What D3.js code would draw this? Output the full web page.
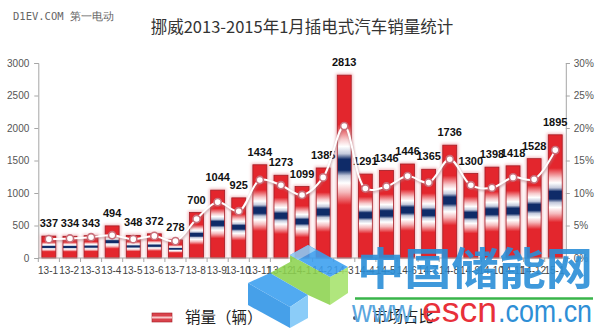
<!DOCTYPE html>
<html><head><meta charset="utf-8">
<script src="https://cdn.jsdelivr.net/npm/d3@7"></script>
<style>body{margin:0;background:#fff}svg{display:block}</style>
</head><body>
<svg id="c" width="600" height="333"></svg>
<script>
const categories = ['13-1','13-2','13-3','13-4','13-5','13-6','13-7','13-8','13-9','13-10','13-11','13-12',
  '14-1','14-2','14-3','14-4','14-5','14-6','14-7','14-8','14-9','14-10','14-11','14-12','15-1'];
const sales = [337,334,343,494,348,372,278,700,1044,925,1434,1273,1099,1385,2813,1291,1346,1446,1365,1736,1300,1398,1418,1528,1895];
const share = [2.9,3.0,3.2,3.5,2.9,3.4,2.6,6.0,8.6,7.2,12.0,11.2,9.7,12.4,20.3,10.7,11.0,12.6,11.6,15.2,11.2,10.8,12.4,12.1,16.6];
const leftTicks = [0,500,1000,1500,2000,2500,3000];
const rightTicks = [0,5,10,15,20,25,30];
const title = '挪威2013-2015年1月插电式汽车销量统计';
const seriesNames = ['销量（辆）','市场占比'];

const svg = d3.select('#c');
const L = 38.3, R = 565.8, T = 63, B = 258;
const x = d3.scaleBand().domain(categories).range([L, R]).paddingInner(0.34).paddingOuter(0.17);
const xb = d3.scaleBand().domain(categories).range([L, R]);
const y = d3.scaleLinear().domain([0,3000]).range([B, T]);
const y2 = d3.scaleLinear().domain([0,30]).range([B, T]);

const defs = svg.append('defs');
const red = '#e3262d', navy = '#0f2b68';
const g = defs.append('linearGradient').attr('id','flag').attr('x1',0).attr('y1',0).attr('x2',0).attr('y2',1);
[[0,red],[0.27,red],[0.35,'#f7c9cb'],[0.39,'#ffffff'],[0.43,'#c4cadc'],[0.46,navy],[0.52,navy],[0.55,'#c4cadc'],[0.59,'#ffffff'],[0.64,'#f5b9bc'],[0.71,red],[1,red]]
  .forEach(([o,c]) => g.append('stop').attr('offset',o).attr('stop-color',c));
const glow = defs.append('filter').attr('id','glow').attr('x','-50%').attr('y','-20%').attr('width','200%').attr('height','140%');
glow.append('feGaussianBlur').attr('stdDeviation',1.8);
const blur = defs.append('filter').attr('id','blur').attr('x','-5%').attr('y','-20%').attr('width','110%').attr('height','140%');
blur.append('feGaussianBlur').attr('stdDeviation',1.2);

// axes
const axL = svg.append('g').attr('transform',`translate(${L},0)`)
  .call(d3.axisLeft(y).tickValues(leftTicks).tickSize(4).tickPadding(5).tickFormat(d => String(d)));
const axR = svg.append('g').attr('transform',`translate(${R},0)`)
  .call(d3.axisRight(y2).tickValues(rightTicks).tickSize(4).tickPadding(4).tickFormat(d => d + '%'));
[axL, axR].forEach(a => {
  a.select('.domain').attr('stroke','#a6a6a6');
  a.selectAll('.tick line').attr('stroke','#a6a6a6');
  a.selectAll('text').attr('fill','#555').style('font-family','"Liberation Sans", Arial, sans-serif').style('font-size','10px');
});

// bars: glow + bar
const bars = svg.append('g');
bars.selectAll('rect.gl').data(sales).join('rect').attr('class','gl')
  .attr('x',(d,i)=>x(categories[i])-1.5).attr('y',d=>y(d)-1.5)
  .attr('width',x.bandwidth()+3).attr('height',d=>B-y(d)+1.5)
  .attr('fill','#e77d86').attr('opacity',0.55).attr('filter','url(#glow)');
bars.selectAll('rect.b').data(sales).join('rect').attr('class','b')
  .attr('x',(d,i)=>x(categories[i])).attr('y',d=>y(d))
  .attr('width',x.bandwidth()).attr('height',d=>B-y(d))
  .attr('fill','url(#flag)').attr('stroke','#a31c25').attr('stroke-width',0.8);

// bottom axis
const axB = svg.append('g').attr('transform',`translate(0,${B})`);
axB.append('line').attr('x1',L).attr('x2',R).attr('stroke','#a6a6a6');
axB.selectAll('line.t').data(d3.range(categories.length+1)).join('line').attr('class','t')
  .attr('x1',i=>L+i*xb.step()).attr('x2',i=>L+i*xb.step()).attr('y1',0).attr('y2',4).attr('stroke','#a6a6a6');
axB.selectAll('text').data(categories).join('text')
  .attr('x',d=>xb(d)+xb.bandwidth()/2-0.8).attr('y',16).attr('text-anchor','middle')
  .attr('fill','#444').style('font-family','"Liberation Sans", Arial, sans-serif').style('font-size','10px')
  .text(d=>d);

// value labels
svg.append('g').selectAll('text').data(sales).join('text')
  .attr('x',(d,i)=>xb(categories[i])+xb.bandwidth()/2).attr('y',d=>y(d)-9)
  .attr('text-anchor','middle').attr('fill','#111')
  .style('font-family','"Liberation Sans", Arial, sans-serif').style('font-weight','bold').style('font-size','11px')
  .text(d=>d);

// share line
const line = d3.line().x((d,i)=>xb(categories[i])+xb.bandwidth()/2).y(d=>y2(d)).curve(d3.curveCatmullRom.alpha(0.5));
svg.append('path').datum(share).attr('d',line).attr('transform','translate(0.5,1.5)')
  .attr('fill','none').attr('stroke','#b07a80').attr('stroke-width',2.5).attr('opacity',0.6).attr('filter','url(#blur)');
svg.append('path').datum(share).attr('d',line).attr('fill','none').attr('stroke','#fff').attr('stroke-width',2);
svg.append('g').selectAll('circle').data(share).join('circle')
  .attr('cx',(d,i)=>xb(categories[i])+xb.bandwidth()/2).attr('cy',d=>y2(d)).attr('r',3.6)
  .attr('fill','#fff').attr('stroke','#c96f7a').attr('stroke-width',1.6);

// title & source
svg.append('text').attr('x',302).attr('y',33).attr('text-anchor','middle')
  .attr('fill','#333').style('font-family','"Noto Sans CJK SC", sans-serif').style('font-size','16.5px').text(title);
svg.append('text').attr('x',13).attr('y',20).attr('fill','#666')
  .style('font-family','"DejaVu Sans Mono", monospace').style('font-size','10.5px').text('D1EV.COM 第一电动');

// legend
const lg = svg.append('g');
lg.append('rect').attr('x',152).attr('y',313).attr('width',20).attr('height',9).attr('fill','#d9434c').attr('stroke','#a31c25').attr('stroke-width',0.6);
lg.append('rect').attr('x',152).attr('y',316.5).attr('width',20).attr('height',2).attr('fill','#f7c9cb');
lg.append('text').attr('x',185).attr('y',323).attr('fill','#222')
  .style('font-family','"Noto Sans CJK SC", sans-serif').style('font-size','15.5px').text(seriesNames[0]);

// watermark logo (decorative)
const wm = svg.append('g').attr('opacity',0.88);
const polys = [
  ['#8dd34f',[[270,273],[290,262],[290,255],[330,277],[330,305],[308,295]]],
  ['#a6e36c',[[330,277],[348,267],[348,293],[330,305]]],
  ['#3a9ff0',[[290,255],[308,245],[348,267],[330,277]]],
  ['#8ccbf7',[[290,255],[308,245],[316,250],[298,260]]],
  ['#3a9ff0',[[248,283],[270,273],[308,295],[290,307]]],
  ['#2d93e6',[[248,283],[290,307],[290,328],[248,305]]],
  ['#7cc6f8',[[290,307],[308,295],[308,318],[290,328]]]
];
polys.forEach(([c,p]) => wm.append('polygon').attr('points',p.map(q=>q.join(',')).join(' ')).attr('fill',c));
svg.append('text').attr('x',357).attr('y',285).attr('fill','#2b8fd8').attr('opacity',0.9)
  .attr('textLength',236).attr('lengthAdjust','spacingAndGlyphs')
  .style('font-family','"Noto Sans CJK SC", sans-serif').style('font-weight','bold').style('font-size','44px').text('中国储能网');
svg.append('line').attr('x1',355).attr('x2',593).attr('y1',298.5).attr('y2',298.5).attr('stroke','#39b54a').attr('stroke-width',2.5);
const url = svg.append('text').attr('y',322).style('font-family','"Liberation Sans", Arial, sans-serif');
url.append('tspan').attr('x',352).attr('textLength',66).attr('lengthAdjust','spacingAndGlyphs').attr('fill','#5aa6de').style('font-size','32px').text('www.');
url.append('tspan').attr('x',422).attr('textLength',75).attr('lengthAdjust','spacingAndGlyphs').attr('fill','#e8303a').style('font-size','35px').text('escn');
url.append('tspan').attr('x',498).attr('textLength',94).attr('lengthAdjust','spacingAndGlyphs').attr('fill','#2e8fd6').style('font-size','31px').text('.com.cn');

// second legend item (drawn over watermark)
lg.append('circle').attr('cx',355).attr('cy',318).attr('r',2).attr('fill','#555');
lg.append('text').attr('x',372).attr('y',322).attr('fill','#222')
  .style('font-family','"Noto Sans CJK SC", sans-serif').style('font-size','15.5px').text(seriesNames[1]);
</script>
</body></html>
